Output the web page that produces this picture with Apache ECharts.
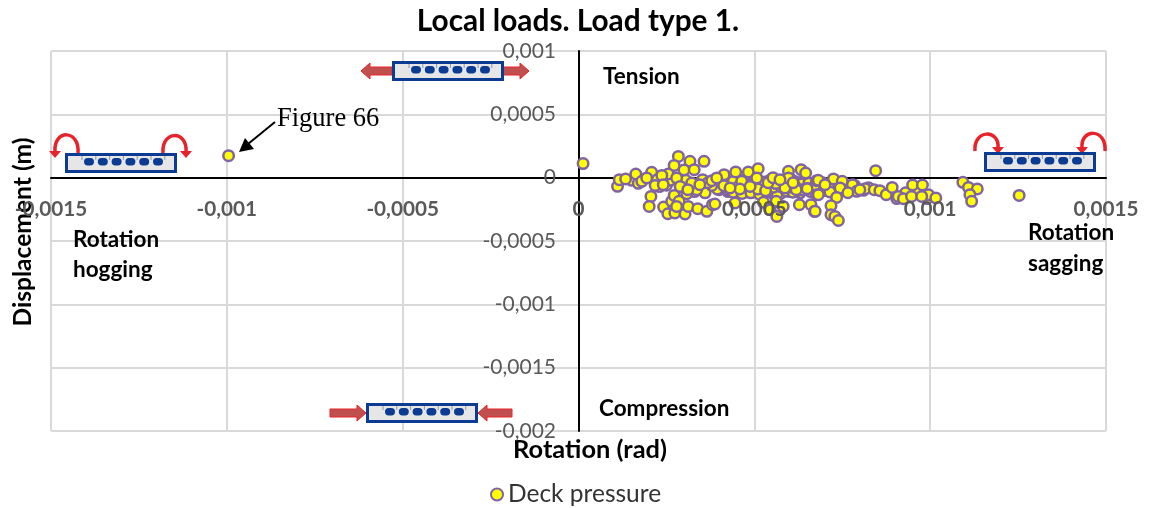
<!DOCTYPE html>
<html><head><meta charset="utf-8">
<style>html,body{margin:0;padding:0;background:#fff}#c{width:1151px;height:508px}</style>
<script src="https://cdn.jsdelivr.net/npm/echarts@6/dist/echarts.min.js"></script>
</head><body><div id="c"></div>
<script>
const chartTitle = 'Local loads. Load type 1.';
const seriesName = 'Deck pressure';
const xName = 'Rotation (rad)';
const yName = 'Displacement (m)';
// rotation, in microradians
const rotationMicro = [-995,13,150,170,230,250,295,325,350,375,400,425,440,470,495,520,545,570,590,605,625,640,660,690,710,730,760,785,825,
400,425,455,475,505,525,550,575,600,630,655,700,
470,500,520,540,560,580,600,620,640,660,
300,330,360,395,430,885,905,930,960,990,
455,480,510,530,555,575,595,615,635,655,675,695,720,740,
440,465,490,515,540,565,590,610,635,660,685,705,770,810,
510,535,555,575,600,615,650,670,
111,116,134,163,180,208,224,218,194,206,201,242,254,265,272,274,286,279,303,308,312,339,365,381,
284,272,317,357,300,329,260,255,305,279,353,336,379,322,368,237,289,241,345,311,
388,379,414,413,393,447,464,483,511,488,459,431,507,445,532,561,562,526,545,564,582,597,597,633,646,619,650,677,677,628,661,671,539,587,610,553,573,
682,682,715,725,750,744,734,718,718,729,739,673,779,791,815,845,841,857,875,892,909,924,950,978,947,995,1016,976,766,800,701,
1093,1109,1134,1113,1118,1253];
// displacement, in micrometres
const displacementMicro = [174,111,-20,-45,-70,-60,-10,-75,-30,-50,-15,-55,-30,-85,-30,-60,-20,-80,-40,-15,-60,-30,-65,-75,-85,-75,-70,-60,-80,
-95,-110,-105,-115,-95,-80,-120,-125,-110,-120,-70,-100,
-20,-45,-35,-60,-70,-90,-60,-105,-30,-100,
-40,-110,-120,-90,-100,-120,-165,-120,-110,-165,
-70,-55,-50,-35,-30,-55,-25,-30,-50,-45,-50,-40,-55,-60,
-115,-125,-120,-130,-110,-125,-105,-115,-95,-110,-90,-100,-90,-100,
-90,-95,-75,-70,-75,-65,-85,-80,
-68,-16,-10,29,-29,42,-16,-61,-2,-148,-227,-232,-285,-187,-140,-279,-187,-227,-287,-126,-227,-245,-266,-213,
168,97,129,129,61,63,-21,29,-21,-2,-16,-95,-61,-42,-40,18,-69,-55,-55,-95,
-208,-24,24,-63,-2,45,-29,45,71,-69,-89,-81,-2,-200,-103,-47,-187,-195,-253,-306,-227,50,-2,63,37,-95,-87,-134,-24,-213,-213,-266,-40,-81,-40,0,-16,
-21,-134,-113,-10,-29,-81,-156,-221,-292,-306,-338,-266,-55,-108,-87,55,-95,-103,-134,-77,-148,-166,-58,-58,-148,-134,-160,-148,-119,-95,-55,
-37,-77,-89,-134,-187,-140];
const xMin = -0.0015, xMax = 0.0015, xStep = 0.0005;
const yMin = -0.002, yMax = 0.001, yStep = 0.0005;

const points = rotationMicro.map((v, i) => [v / 1e6, displacementMicro[i] / 1e6]);
const comma = v => String(v).replace('.', ',');
const grey = '#595959', gridGrey = '#D9D9D9', navy = '#0B3B93', red = '#E8222A', redFill = '#C0504D';
const ff = 'Lato, "Open Sans", sans-serif';

function beam(x, y) {
  const out = [
    {type:'rect', shape:{x:x+1.5,y:y+1.5,width:109,height:17}, style:{fill:'#E6E6E6',stroke:navy,lineWidth:3}, z:20}
  ];
  for (let i = 0; i < 7; i++) {
    out.push({type:'line', shape:{x1:x+17+i*13.8,y1:y+3,x2:x+17+i*13.8,y2:y+7}, style:{stroke:'#8A9AA8',lineWidth:1}, z:21});
  }
  for (let i = 0; i < 6; i++) {
    out.push({type:'rect', shape:{x:x+19+i*13.8,y:y+5,width:10,height:7.5,r:3.7}, style:{fill:navy}, z:22});
  }
  return out;
}
function hArrow(tail, tip, y) {
  const d = tip > tail ? 1 : -1, n = tip - d * 9;
  return {type:'polygon', shape:{points:[[tail,y-4],[n,y-4],[n,y-8],[tip,y],[n,y+8],[n,y+4],[tail,y+4]]},
    style:{fill:redFill,stroke:red,lineWidth:1}, z:19};
}
function curl(x1, y1, cy, x2, y2) {
  const k = (x2 - x1) * 0.08;
  return [
    {type:'bezierCurve', shape:{x1:x1,y1:y1,x2:x2,y2:y2-2,cpx1:x1-k,cpy1:cy,cpx2:x2+k,cpy2:cy},
     style:{fill:'none',stroke:red,lineWidth:3.5}, z:19},
    {type:'polygon', shape:{points:[[x2-6,y2-3],[x2+6,y2-3],[x2,y2+4]]}, style:{fill:red}, z:19}
  ];
}
function label(text, x, y) {
  return {type:'text', x:x, y:y, z:25, style:{text:text, fill:'#000', font:'bold 22.5px '+ff, textVerticalAlign:'middle'}};
}
const decorations = [].concat(
  beam(392,61), hArrow(392,361,71), hArrow(503,529,71),
  beam(366,403), hArrow(330,366,413), hArrow(512,478,413),
  beam(65,153), curl(78,153,129,55,154), curl(163,153,130,186,154),
  beam(984,152), curl(975,151,129,998,150), curl(1105,151,128,1082,150),
  [
    label('Tension',603,77), label('Compression',599,409),
    label('Rotation',73,240), label('hogging',73,270),
    label('Rotation',1028,233), label('sagging',1028,264),
    {type:'text', x:277, y:119, z:25, style:{text:'Figure 66', fill:'#000', font:'26.5px "Liberation Serif", serif', textVerticalAlign:'middle'}},
    {type:'line', shape:{x1:275,y1:122,x2:248,y2:144}, style:{stroke:'#000',lineWidth:2}, z:25},
    {type:'polygon', shape:{points:[[239,152],[245,138],[254,149]]}, style:{fill:'#000'}, z:25}
  ]
);

const chart = echarts.init(document.getElementById('c'), null, {renderer:'canvas'});
chart.setOption({
  animation:false,
  backgroundColor:'#fff',
  title:{text:chartTitle,left:573,top:1,textAlign:'center',textStyle:{fontFamily:ff,fontWeight:'bold',fontSize:29.8,color:'#000'}},
  legend:{left:485,top:477,itemWidth:12,itemHeight:12,data:[{name:seriesName,icon:'circle'}],textStyle:{fontFamily:ff,fontSize:24.5,color:'#333'}},
  grid:{left:51,right:45,top:51,bottom:77,outerBoundsMode:'none'},
  xAxis:[
    {type:'value',position:'bottom',min:xMin,max:xMax,interval:xStep,z:5,
     axisLine:{show:false,onZero:true,onZeroAxisIndex:0},axisTick:{show:false},splitLine:{show:false},
     axisLabel:{formatter:comma,margin:-232,color:grey,fontFamily:ff,fontWeight:'bold',fontSize:20.7,hideOverlap:false,showMinLabel:true,showMaxLabel:true}},
    {type:'value',position:'bottom',min:xMin,max:xMax,interval:xStep,z:1,
     name:xName,nameLocation:'middle',nameGap:6,
     nameTextStyle:{fontFamily:ff,fontWeight:'bold',fontSize:25.4,color:'#000',padding:[0,0,0,23]},
     axisLine:{show:true,onZero:true,onZeroAxisIndex:0,lineStyle:{color:'#000',width:2}},axisTick:{show:false},axisLabel:{show:false},
     splitLine:{show:true,lineStyle:{color:gridGrey,width:2}}}
  ],
  yAxis:{type:'value',min:yMin,max:yMax,interval:yStep,z:1,
    name:yName,nameLocation:'middle',nameGap:15,
    nameTextStyle:{fontFamily:ff,fontWeight:'bold',fontSize:24.6,color:'#000',padding:[0,0,0,18]},
    axisLine:{show:true,onZero:true,lineStyle:{color:'#000',width:2}},axisTick:{show:false},
    axisLabel:{formatter:comma,margin:-505,color:grey,fontFamily:ff,fontSize:21},
    splitLine:{show:true,lineStyle:{color:gridGrey,width:2}}},
  series:[{name:seriesName,type:'scatter',xAxisIndex:0,data:points,symbol:'circle',symbolSize:10.5,z:3,
    itemStyle:{color:'#FFFF00',borderColor:'#8064A2',borderWidth:2.5,opacity:1}}],
  graphic:decorations
});
</script></body></html>
